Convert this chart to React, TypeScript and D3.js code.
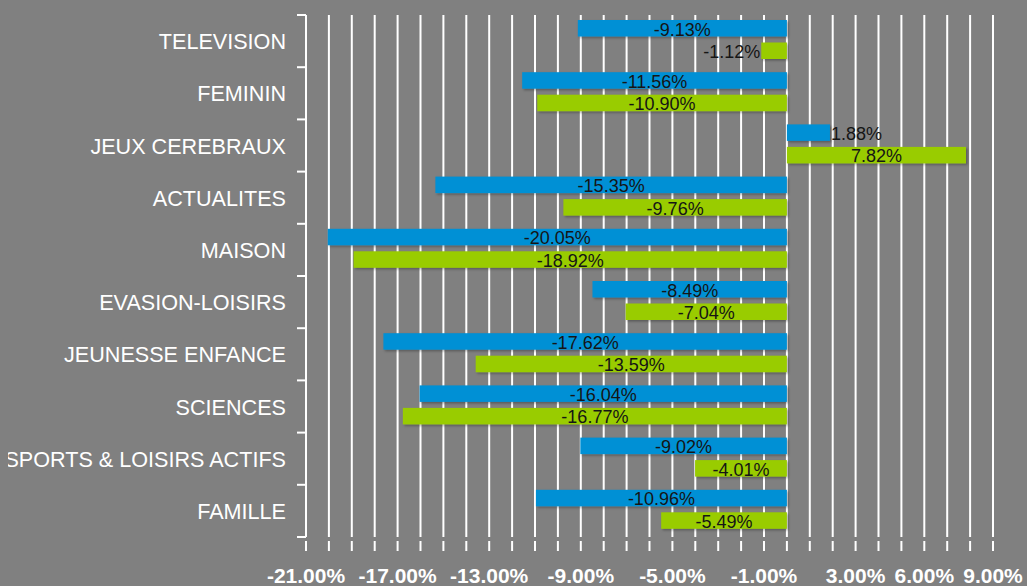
import React from "react";
import * as d3 from "d3";

const categories = [
  "TELEVISION",
  "FEMININ",
  "JEUX CEREBRAUX",
  "ACTUALITES",
  "MAISON",
  "EVASION-LOISIRS",
  "JEUNESSE ENFANCE",
  "SCIENCES",
  "SPORTS & LOISIRS ACTIFS",
  "FAMILLE",
];
const seriesBlue = [-9.13, -11.56, 1.88, -15.35, -20.05, -8.49, -17.62, -16.04, -9.02, -10.96];
const seriesGreen = [-1.12, -10.9, 7.82, -9.76, -18.92, -7.04, -13.59, -16.77, -4.01, -5.49];
const tickLabels = [-21, -17, -13, -9, -5, -1, 3, 6, 9];

const W = 1027;
const H = 586;
const BG = "#808080";
const BLUE = "#0090D5";
const GREEN = "#99CC00";
const FONT = "'Liberation Sans', Arial, sans-serif";

export default function App() {
  const x = d3.scaleLinear().domain([-21, 9]).range([306, 993]);
  const y = d3.scaleBand<string>().domain(categories).range([15, 537]).padding(0);
  const bw = y.bandwidth();
  const barH = 16.5;
  const offsets = [5, 27.5];
  const gridTicks = d3.range(-21, 10, 1);
  const fmt = (v: number) => v.toFixed(2) + "%";
  const labelSize = 18;

  const series = [
    { values: seriesBlue, color: BLUE, off: offsets[0] },
    { values: seriesGreen, color: GREEN, off: offsets[1] },
  ];

  const textWidth = (s: string) => {
    let w = 0;
    for (const ch of s) {
      if (ch === "-") w += 0.333;
      else if (ch === ".") w += 0.278;
      else if (ch === "%") w += 0.889;
      else w += 0.556;
    }
    return w * labelSize;
  };

  return (
    <svg
      width={W}
      height={H}
      style={{ position: "absolute", left: 0, top: 0, background: BG }}
    >
      <defs>
        <clipPath id="chartClip">
          <rect x={8} y={0} width={W - 8} height={H} />
        </clipPath>
        <filter id="shadow" x="-5%" y="-30%" width="110%" height="170%">
          <feDropShadow dx="1.5" dy="1.5" stdDeviation="1" floodColor="#000" floodOpacity="0.3" />
        </filter>
      </defs>
      <rect x={0} y={0} width={W} height={H} fill={BG} />

      {gridTicks.map((t) => (
        <line
          key={"g" + t}
          x1={x(t)}
          x2={x(t)}
          y1={15}
          y2={537}
          stroke="#ffffff"
          strokeWidth={2}
        />
      ))}

      {gridTicks.map((t) => (
        <line
          key={"t" + t}
          x1={x(t)}
          x2={x(t)}
          y1={541}
          y2={551}
          stroke="#ffffff"
          strokeWidth={2}
        />
      ))}

      {tickLabels.map((t) => (
        <text
          key={"l" + t}
          x={x(t)}
          y={583}
          textAnchor="middle"
          fill="#ffffff"
          fontFamily={FONT}
          fontWeight="bold"
          fontSize={21}
        >
          {fmt(t)}
        </text>
      ))}

      <line x1={306} x2={306} y1={15} y2={537} stroke="#ffffff" strokeWidth={2} />
      {categories.map((c, i) => (
        <line
          key={"ct" + i}
          x1={297}
          x2={306}
          y1={y(c)!}
          y2={y(c)!}
          stroke="#ffffff"
          strokeWidth={2}
        />
      ))}
      <line x1={297} x2={306} y1={537} y2={537} stroke="#ffffff" strokeWidth={2} />

      <g clipPath="url(#chartClip)">
        {categories.map((c) => (
          <text
            key={"cl" + c}
            x={286}
            y={y(c)! + bw / 2 + 8}
            textAnchor="end"
            fill="#ffffff"
            fontFamily={FONT}
            fontSize={21.6}
          >
            {c}
          </text>
        ))}
      </g>

      {series.map((s, si) =>
        s.values.map((v, i) => {
          const c = categories[i];
          const x0 = x(Math.min(0, v));
          const x1 = x(Math.max(0, v));
          const yy = y(c)! + s.off;
          return (
            <rect
              key={"b" + si + "-" + i}
              x={x0}
              y={yy}
              width={x1 - x0}
              height={barH}
              fill={s.color}
              filter="url(#shadow)"
            />
          );
        })
      )}

      {series.map((s, si) =>
        s.values.map((v, i) => {
          const c = categories[i];
          const x0 = x(Math.min(0, v));
          const x1 = x(Math.max(0, v));
          const yy = y(c)! + s.off;
          const label = fmt(v);
          const tw = textWidth(label);
          let tx = (x0 + x1) / 2;
          let anchor: "middle" | "start" | "end" = "middle";
          if (x1 - x0 < tw + 4) {
            if (v < 0) {
              tx = x0 - 1;
              anchor = "end";
            } else {
              tx = x1 + 1;
              anchor = "start";
            }
          }
          return (
            <text
              key={"bl" + si + "-" + i}
              x={tx}
              y={yy + 15.5}
              textAnchor={anchor}
              fill="#151515"
              fontFamily={FONT}
              fontSize={labelSize}
            >
              {label}
            </text>
          );
        })
      )}
    </svg>
  );
}
